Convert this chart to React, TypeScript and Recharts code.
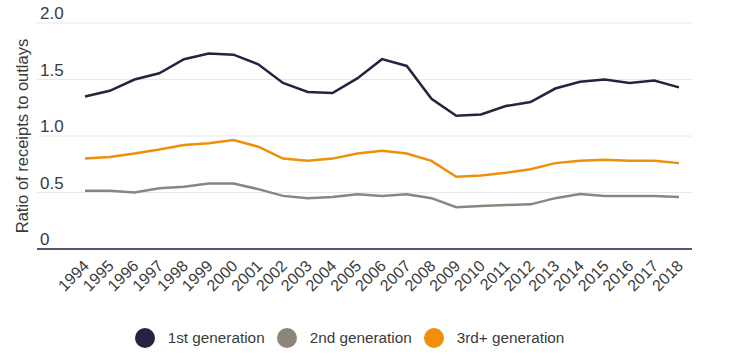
import React from 'react';
import { LineChart, Line, XAxis, YAxis, CartesianGrid, Legend } from 'recharts';

const years = [
  '1994', '1995', '1996', '1997', '1998', '1999', '2000', '2001', '2002', '2003',
  '2004', '2005', '2006', '2007', '2008', '2009', '2010', '2011', '2012', '2013',
  '2014', '2015', '2016', '2017', '2018',
];

const firstGen = [
  1.35, 1.4, 1.5, 1.555, 1.68, 1.73, 1.72, 1.635, 1.47, 1.39,
  1.38, 1.51, 1.68, 1.62, 1.33, 1.18, 1.19, 1.265, 1.3, 1.42,
  1.48, 1.5, 1.47, 1.49, 1.43,
];

const secondGen = [
  0.516, 0.516, 0.5, 0.537, 0.55, 0.58, 0.58, 0.53, 0.47, 0.45,
  0.46, 0.485, 0.47, 0.485, 0.45, 0.37, 0.38, 0.39, 0.395, 0.45,
  0.487, 0.47, 0.47, 0.47, 0.46,
];

const thirdGen = [
  0.8, 0.815, 0.845, 0.88, 0.92, 0.935, 0.965, 0.905, 0.8, 0.78,
  0.8, 0.845, 0.87, 0.845, 0.78, 0.64, 0.65, 0.675, 0.705, 0.76,
  0.78, 0.79, 0.78, 0.78, 0.76,
];

const yTicks = [0, 0.5, 1, 1.5, 2];

const series = [
  { key: '1st generation', values: firstGen, color: '#25233f' },
  { key: '2nd generation', values: secondGen, color: '#8b857c' },
  { key: '3rd+ generation', values: thirdGen, color: '#ef8f0b' },
];

const FONT = '"Liberation Sans", Arial, sans-serif';
const TEXT = '#3a3a3a';

const chartData = years.map((year, i) => {
  const row: Record<string, string | number> = { year };
  series.forEach((s) => {
    row[s.key] = s.values[i];
  });
  return row;
});

const fmtY = (v: number) => (v === 0 ? '0' : v.toFixed(1));

// y labels sit just above their gridline, inside the plot
const YTick = ({ x, y, payload }: { x?: number; y?: number; payload?: { value: number } }) => (
  <text x={(x ?? 0) + 3} y={(y ?? 0) - 4} fill={TEXT} fontSize={17} fontFamily={FONT} textAnchor="start">
    {fmtY(payload?.value ?? 0)}
  </text>
);

const XTick = ({ x, y, payload }: { x?: number; y?: number; payload?: { value: string } }) => (
  <g transform={`translate(${(x ?? 0) + 1},${(y ?? 0) + 6})`}>
    <text x={0} y={0} dy="0.35em" fill={TEXT} fontSize={16} fontFamily={FONT} textAnchor="end" transform="rotate(-45)">
      {payload?.value}
    </text>
  </g>
);

const LegendContent = () => (
  <div
    style={{
      display: 'flex',
      justifyContent: 'center',
      alignItems: 'center',
      height: 34,
      gap: 12,
      paddingLeft: 7,
      fontFamily: FONT,
      fontSize: 15.3,
      color: TEXT,
    }}
  >
    {series.map((s) => (
      <div key={s.key} style={{ display: 'flex', alignItems: 'center', gap: 13 }}>
        <svg width="20" height="20">
          <circle cx="10" cy="10" r="10" fill={s.color} />
        </svg>
        <span>{s.key}</span>
      </div>
    ))}
  </div>
);

export default function App() {
  return (
    <div style={{ position: 'absolute', left: 0, top: 0, width: 735, height: 355, background: '#fff' }}>
      <LineChart
        width={735}
        height={355}
        data={chartData}
        margin={{ top: 23, right: 43, left: 0, bottom: 0 }}
      >
        <CartesianGrid vertical={false} stroke="#e8e8e8" strokeWidth={1} />
        <XAxis
          dataKey="year"
          interval={0}
          height={72}
          padding={{ left: 48, right: 13 }}
          tickLine={false}
          axisLine={{ stroke: '#25233f', strokeWidth: 1.5 }}
          tick={<XTick />}
        />
        <YAxis
          width={37}
          domain={[0, 2]}
          ticks={yTicks}
          axisLine={false}
          tickLine={false}
          tickSize={0}
          tickMargin={0}
          tick={<YTick />}
          label={{
            content: ({ viewBox }: any) => {
              const vb = viewBox || { x: 0, y: 0, width: 37, height: 226 };
              const cx = vb.x + 22;
              const cy = vb.y + vb.height / 2;
              return (
                <text
                  x={cx}
                  y={cy}
                  transform={`rotate(-90, ${cx}, ${cy})`}
                  textAnchor="middle"
                  dominantBaseline="central"
                  fill={TEXT}
                  fontSize={16.5}
                  fontFamily={FONT}
                >
                  Ratio of receipts to outlays
                </text>
              );
            },
          }}
        />
        <Legend verticalAlign="bottom" height={34} content={<LegendContent />} />
        {series.map((s) => (
          <Line
            key={s.key}
            type="linear"
            dataKey={s.key}
            stroke={s.color}
            strokeWidth={2.5}
            dot={false}
            activeDot={false}
            isAnimationActive={false}
          />
        ))}
      </LineChart>
    </div>
  );
}
